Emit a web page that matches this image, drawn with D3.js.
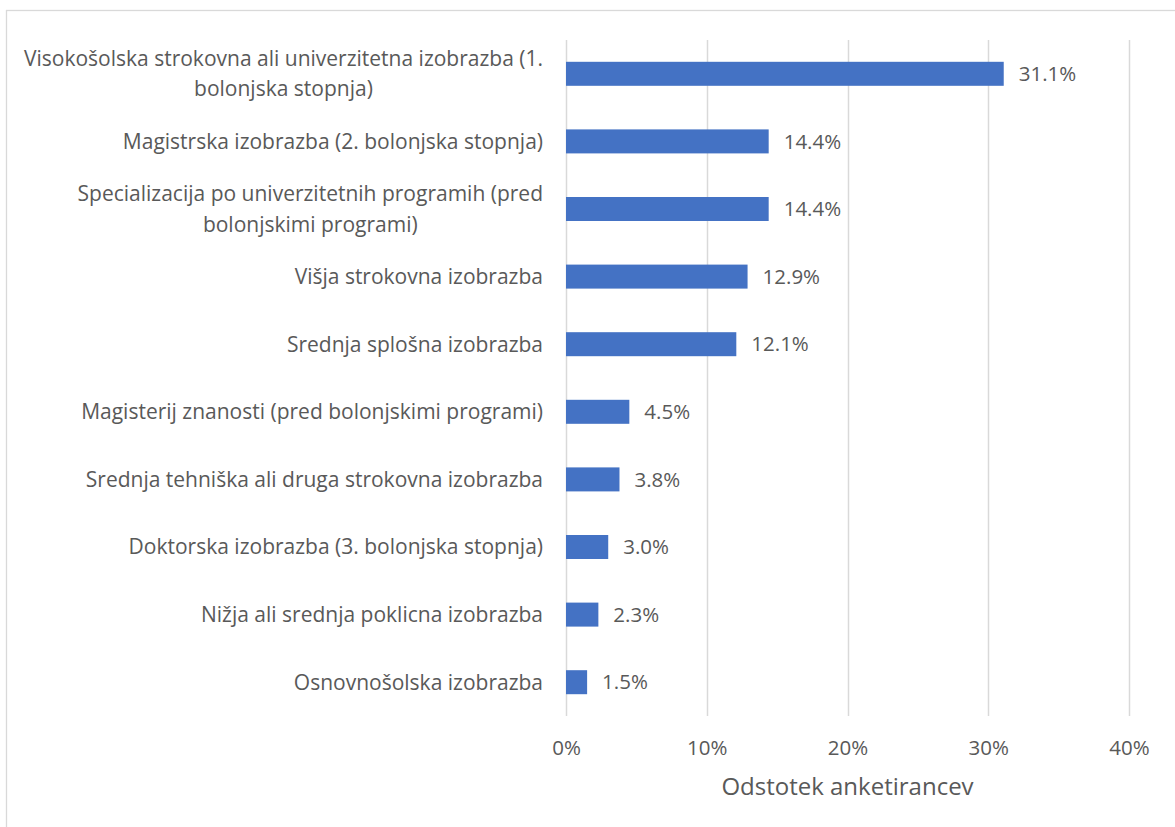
<!DOCTYPE html>
<html>
<head>
<meta charset="utf-8">
<script src="https://cdn.jsdelivr.net/npm/d3@7"></script>
<style>
  html, body { margin: 0; padding: 0; background: #fff; }
  svg { display: block; font-family: "Open Sans", Lato, sans-serif; }
</style>
</head>
<body>
<svg id="chart" width="1175" height="827"></svg>
<script>
// Education level categories (top to bottom), each entry is the list of wrapped lines
const categories = [
  ["Visokošolska strokovna ali univerzitetna izobrazba (1.", "bolonjska stopnja)"],
  ["Magistrska izobrazba (2. bolonjska stopnja)"],
  ["Specializacija po univerzitetnih programih (pred", "bolonjskimi programi)"],
  ["Višja strokovna izobrazba"],
  ["Srednja splošna izobrazba"],
  ["Magisterij znanosti (pred bolonjskimi programi)"],
  ["Srednja tehniška ali druga strokovna izobrazba"],
  ["Doktorska izobrazba (3. bolonjska stopnja)"],
  ["Nižja ali srednja poklicna izobrazba"],
  ["Osnovnošolska izobrazba"]
];
// Share of respondents, percent
const values = [31.1, 14.4, 14.4, 12.9, 12.1, 4.5, 3.8, 3.0, 2.3, 1.5];
const xTicks = [0, 10, 20, 30, 40];
const xTitle = "Odstotek anketirancev";

const svg = d3.select("#chart");
const textColor = "#595959";
const gridColor = "#d9d9d9";
const barColor = "#4472c4";

// Chart frame
svg.append("rect")
  .attr("x", 6.5).attr("y", 10.5)
  .attr("width", 1175).attr("height", 830)
  .attr("fill", "#fff").attr("stroke", gridColor).attr("stroke-width", 1.3);

const plot = { left: 566, right: 1129, top: 40, bottom: 716 };

const x = d3.scaleLinear().domain([0, 40]).range([plot.left, plot.right]);
const y = d3.scaleBand()
  .domain(d3.range(categories.length))
  .range([plot.top, plot.bottom])
  .paddingInner(0.645).paddingOuter(0.3225);

// Vertical gridlines
svg.append("g").selectAll("line").data(xTicks).join("line")
  .attr("x1", d => Math.round(x(d)) + 0.5).attr("x2", d => Math.round(x(d)) + 0.5)
  .attr("y1", plot.top).attr("y2", plot.bottom)
  .attr("stroke", gridColor).attr("stroke-width", 1.5);

// X axis tick labels
const xAxis = d3.axisBottom(x).tickValues(xTicks).tickFormat(d => d + "%").tickSize(0).tickPadding(0);
const gx = svg.append("g").attr("transform", `translate(0, 748)`).call(xAxis);
gx.select(".domain").remove();
gx.selectAll("text")
  .attr("fill", textColor).attr("font-size", 20.5)
  .attr("font-family", "'Open Sans', sans-serif")
  .attr("dy", "0.35em").attr("y", 0);

// Axis title
svg.append("text")
  .attr("x", (plot.left + plot.right) / 2).attr("y", 787)
  .attr("dy", "0.35em")
  .attr("text-anchor", "middle")
  .attr("fill", textColor).attr("font-size", 24)
  .text(xTitle);

// Bars
svg.append("g").selectAll("rect").data(values).join("rect")
  .attr("x", x(0))
  .attr("y", (d, i) => y(i))
  .attr("width", d => x(d) - x(0))
  .attr("height", y.bandwidth())
  .attr("fill", barColor);

// Value labels
svg.append("g").selectAll("text").data(values).join("text")
  .attr("x", d => x(d) + 15)
  .attr("y", (d, i) => y(i) + y.bandwidth() / 2)
  .attr("dy", "0.35em")
  .attr("fill", textColor).attr("font-size", 20.5)
  .text(d => d.toFixed(1) + "%");

// Category labels, wrapped lines centred within a right-aligned block
const labelRight = 543;
const lineH = 30.5;
const gl = svg.append("g").attr("font-size", 21).attr("fill", textColor);
categories.forEach((lines, i) => {
  const cy = y(i) + y.bandwidth() / 2;
  const tmp = gl.append("text").attr("visibility", "hidden");
  const widths = lines.map(l => { tmp.text(l); return tmp.node().getComputedTextLength(); });
  tmp.remove();
  const maxW = d3.max(widths);
  const cx = labelRight - maxW / 2;
  lines.forEach((l, j) => {
    gl.append("text")
      .attr("x", cx)
      .attr("y", cy + (j - (lines.length - 1) / 2) * lineH)
      .attr("dy", "0.35em")
      .attr("text-anchor", "middle")
      .text(l);
  });
});
</script>
</body>
</html>
